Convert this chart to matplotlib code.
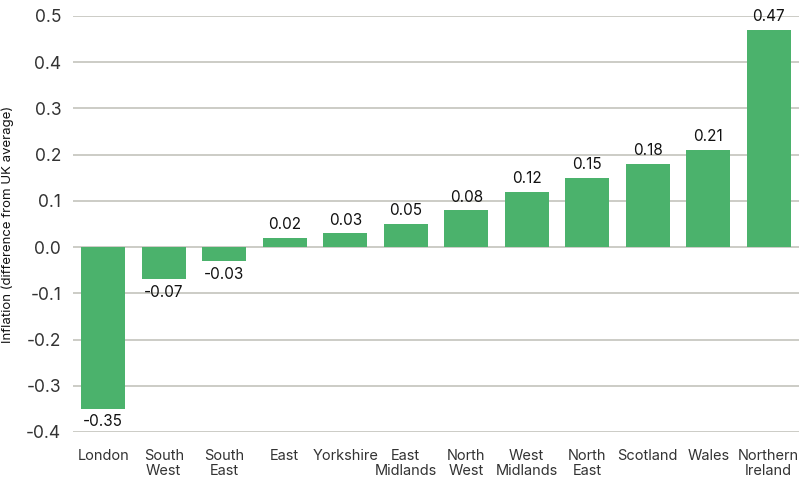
import matplotlib
matplotlib.use("Agg")
import matplotlib.pyplot as plt

regions = ["London", "South\nWest", "South\nEast", "East", "Yorkshire", "East\nMidlands",
           "North\nWest", "West\nMidlands", "North\nEast", "Scotland", "Wales", "Northern\nIreland"]
values = [-0.35, -0.07, -0.03, 0.02, 0.03, 0.05, 0.08, 0.12, 0.15, 0.18, 0.21, 0.47]
yticks = [-0.4, -0.3, -0.2, -0.1, 0.0, 0.1, 0.2, 0.3, 0.4, 0.5]

plt.rcParams['font.family'] = ['Inter', 'DejaVu Sans']

fig = plt.figure(figsize=(8.03, 4.79), dpi=100)
ax = fig.add_axes([73/803, 1 - 432/479, (799-73)/803, (432-16)/479])

x = list(range(len(regions)))
bars = ax.bar(x, values, width=0.73, color="#4BB26C", zorder=3)
ax.set_xlim(-0.5, len(regions) - 0.5)
ax.set_ylim(-0.4, 0.5)
ax.set_yticks(yticks)
ax.set_yticklabels([f"{v:.1f}" for v in yticks], fontsize=12.5, color="#333333")
ax.set_xticks(x)
ax.set_xticklabels(regions, fontsize=10.5, color="#333333", linespacing=1.1, va="top")
ax.tick_params(axis="both", length=0)
ax.tick_params(axis="x", pad=12.5)
ax.tick_params(axis="y", pad=8.5)
ax.grid(axis="y", color="#c8c8c2", linewidth=1.3, zorder=0)
for s in ax.spines.values():
    s.set_visible(False)

for xi, v in zip(x, values):
    if v >= 0:
        ax.annotate(f"{v:.2f}", (xi, v), xytext=(0, 4), textcoords="offset points",
                    ha="center", va="bottom", fontsize=11, color="#111111")
    else:
        ax.annotate(f"{v:.2f}", (xi, v), xytext=(0, -4), textcoords="offset points",
                    ha="center", va="top", fontsize=11, color="#111111")

ax.set_ylabel("Inflation (difference from UK average)", fontsize=9.5, color="#111111", labelpad=9)

fig.savefig("out.png", dpi=100)
